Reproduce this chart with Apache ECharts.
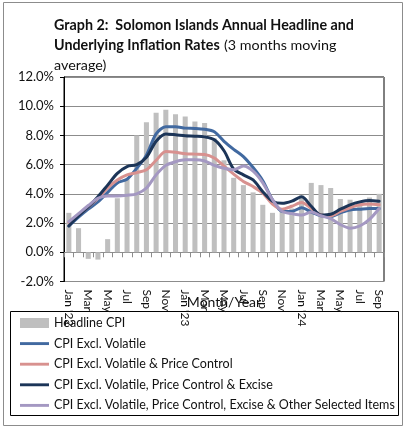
<!DOCTYPE html>
<html>
<head>
<meta charset="utf-8">
<script src="https://cdn.jsdelivr.net/npm/echarts@6/dist/echarts.min.js"></script>
<style>
  html, body { margin: 0; padding: 0; background: #fff; }
  #main { width: 409px; height: 430px; }
</style>
</head>
<body>
<div id="main"></div>
<script>
// month labels (only every second one is shown on the axis)
const months = ["Jan '22", 'Feb', 'Mar', 'Apr', 'May', 'Jun', 'Jul', 'Aug', 'Sep', 'Oct', 'Nov', 'Dec',
    "Jan '23", 'Feb', 'Mar', 'Apr', 'May', 'Jun', 'Jul', 'Aug', 'Sep', 'Oct', 'Nov', 'Dec',
    "Jan '24", 'Feb', 'Mar', 'Apr', 'May', 'Jun', 'Jul', 'Aug', 'Sep'];

const headlineCPI = [2.7, 1.65, -0.45, -0.5, 0.9, 3.7, 5.0, 8.0, 8.9, 9.55, 9.75, 9.45,
    9.3, 8.95, 8.85, 7.8, 6.3, 5.1, 4.6, 4.1, 3.25, 2.7, 3.0, 3.0,
    3.9, 4.75, 4.6, 4.4, 3.65, 3.6, 3.5, 3.75, 4.0];

const exclVolatile = [1.8, 2.4, 2.95, 3.45, 4.1, 4.75, 5.0, 5.75, 6.65, 8.1, 8.6, 8.6,
    8.5, 8.48, 8.42, 8.25, 7.6, 7.05, 6.55, 5.8, 4.9, 3.6, 2.8, 2.8,
    3.05, 2.75, 2.5, 2.45, 2.7, 2.9, 2.95, 3.0, 3.0];

const exclVolPC = [2.05, 2.55, 3.1, 3.7, 4.4, 4.95, 5.3, 5.45, 5.65, 6.3, 6.9, 6.85,
    6.75, 6.72, 6.7, 6.45, 5.9, 5.35, 4.85, 4.5, 4.05, 3.3, 2.95, 3.15,
    3.4, 3.0, 2.55, 2.5, 2.8, 3.05, 3.25, 3.3, 3.25];

const exclVolPCExcise = [1.8, 2.5, 3.1, 3.8, 4.6, 5.4, 5.87, 6.0, 6.5, 7.6, 8.1, 8.05,
    7.98, 7.95, 7.9, 7.7, 6.95, 5.7, 5.3, 4.95, 4.15, 3.5, 3.35, 3.5,
    3.8, 3.15, 2.55, 2.6, 2.95, 3.25, 3.45, 3.55, 3.5];

const exclVolPCExciseOther = [2.1, 2.65, 3.2, 3.7, 3.85, 3.85, 3.9, 4.0, 4.4, 5.3, 5.95, 6.2,
    6.33, 6.33, 6.25, 5.95, 5.75, 5.65, 5.9, 5.55, 4.75, 3.6, 2.8, 2.65,
    2.55, 2.75, 2.5, 2.3, 1.9, 1.65, 1.8, 2.25, 3.0];

const FONT = 'Lato';
// thin stripe inside a 10px high box, so the legend shows a plain line
const LINE_ICON = 'path://M0,0 M30,10 M0,3.5 L30,3.5 L30,6.5 L0,6.5 Z';

const lineSeries = (name, data, color) => ({
    name: name,
    type: 'line',
    data: data,
    smooth: 0.3,
    symbol: 'none',
    lineStyle: { color: color, width: 3, cap: 'round' },
    itemStyle: { color: color }
});

let myChart = echarts.init(document.getElementById('main'));
myChart.setOption({
    animation: false,
    textStyle: { fontFamily: FONT },
    title: {
        left: 49,
        top: 10,
        text: '{b|Graph 2:  Solomon Islands Annual Headline and}\n{b|Underlying Inflation Rates} {n|(3 months moving}\n{n|average)}',
        textStyle: {
            rich: {
                b: { fontFamily: FONT, fontWeight: 'bold', fontSize: 14.3, color: '#111', lineHeight: 20 },
                n: { fontFamily: FONT, fontWeight: 'normal', fontSize: 14.3, color: '#111', lineHeight: 20 }
            }
        }
    },
    graphic: [
        { type: 'rect', shape: { x: 3.5, y: 2.5, width: 399, height: 423 }, style: { fill: 'none', stroke: '#8c8c8c', lineWidth: 1 } },
        { type: 'rect', shape: { x: 10.5, y: 311.5, width: 388, height: 104 }, style: { fill: 'none', stroke: '#000', lineWidth: 1 } }
    ],
    legend: {
        orient: 'vertical',
        left: 15,
        top: 311,
        itemWidth: 29,
        itemHeight: 10,
        itemGap: 6.6,
        textStyle: { fontFamily: FONT, fontSize: 12.5, color: '#111', lineHeight: 14 },
        data: [
            { name: 'Headline CPI', icon: 'rect' },
            { name: 'CPI Excl. Volatile', icon: LINE_ICON },
            { name: 'CPI Excl. Volatile & Price Control', icon: LINE_ICON },
            { name: 'CPI Excl. Volatile, Price Control & Excise', icon: LINE_ICON },
            { name: 'CPI Excl. Volatile, Price Control, Excise & Other Selected Items', icon: LINE_ICON }
        ]
    },
    grid: {
        left: 64,
        right: 25,
        top: 77,
        bottom: 148.5,
        show: true,
        borderColor: '#000',
        borderWidth: 1
    },
    xAxis: {
        type: 'category',
        data: months,
        boundaryGap: true,
        name: 'Month/Year',
        nameLocation: 'middle',
        nameGap: 14,
        nameMoveOverlap: false,
        nameTextStyle: { fontFamily: FONT, fontSize: 14, color: '#111' },
        axisLine: { onZero: true, lineStyle: { color: '#8c8c8c' } },
        axisTick: { show: true, interval: 0, length: 5, lineStyle: { color: '#8c8c8c' } },
        axisLabel: { interval: 1, rotate: -90, fontSize: 12, color: '#111', margin: 8 }
    },
    yAxis: {
        type: 'value',
        min: -2,
        max: 12,
        interval: 2,
        axisLine: { show: true, lineStyle: { color: '#000' } },
        axisTick: { show: true, length: 4, lineStyle: { color: '#000' } },
        axisLabel: { fontSize: 13, color: '#111', margin: 10, formatter: (v) => v.toFixed(1) + '%' },
        splitLine: { lineStyle: { color: '#8c8c8c', width: 1 } }
    },
    series: [
        {
            name: 'Headline CPI',
            type: 'bar',
            data: headlineCPI,
            barWidth: '52%',
            itemStyle: { color: '#bfbfbf' }
        },
        lineSeries('CPI Excl. Volatile', exclVolatile, '#4169a0'),
        lineSeries('CPI Excl. Volatile & Price Control', exclVolPC, '#d8918f'),
        lineSeries('CPI Excl. Volatile, Price Control & Excise', exclVolPCExcise, '#1c3558'),
        lineSeries('CPI Excl. Volatile, Price Control, Excise & Other Selected Items', exclVolPCExciseOther, '#a498c2')
    ]
});
</script>
</body>
</html>
